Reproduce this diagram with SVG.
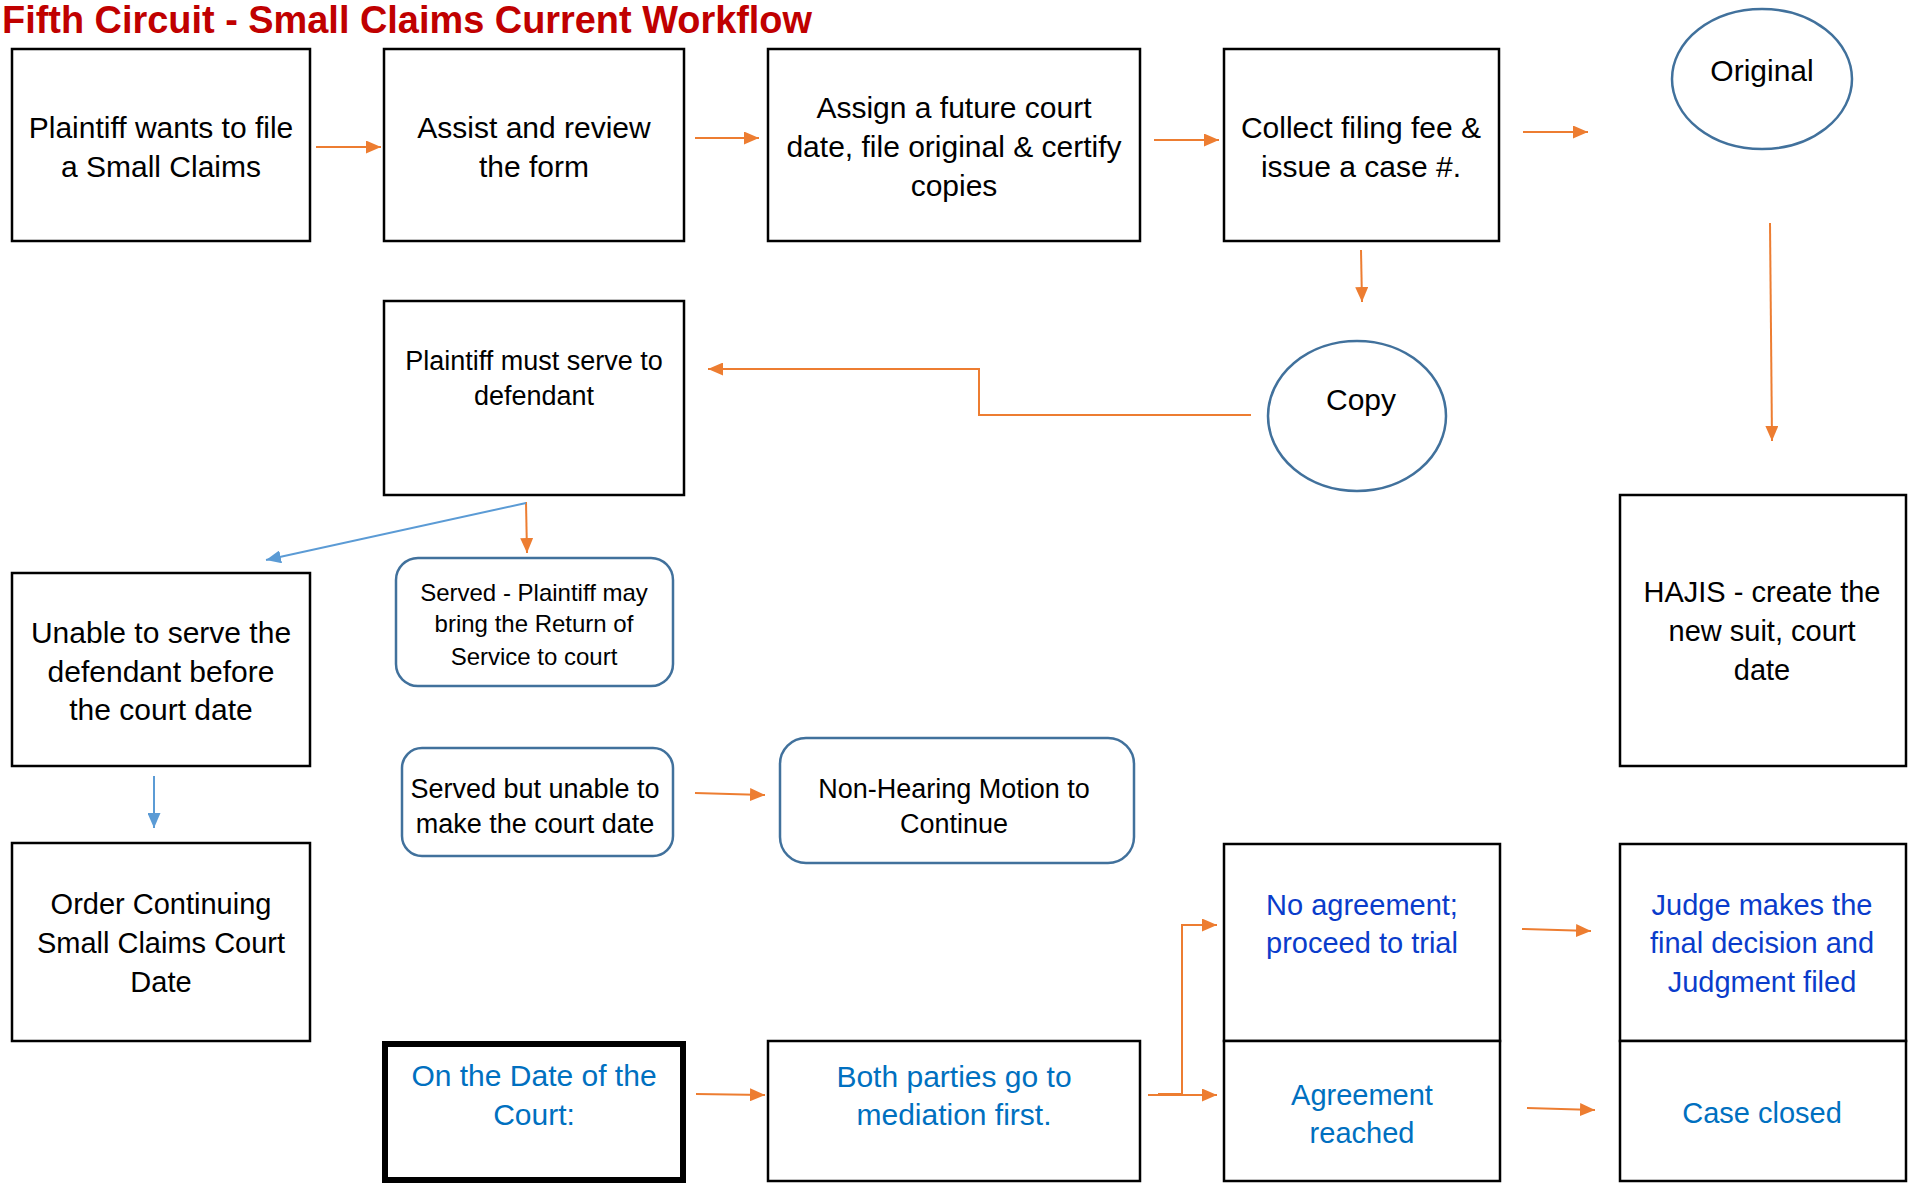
<svg xmlns="http://www.w3.org/2000/svg" width="1911" height="1183" viewBox="0 0 1911 1183">
<style>
  .box { fill: #FFFFFF; stroke: #000000; stroke-width: 2.5; }
  .thick { fill: #FFFFFF; stroke: #000000; stroke-width: 6; }
  .rbox { fill: #FFFFFF; stroke: #41719C; stroke-width: 2.5; }
  .ell { fill: #FFFFFF; stroke: #41719C; stroke-width: 2.5; }
  text { font-family: "Liberation Sans", Arial, sans-serif; text-anchor: middle; dominant-baseline: central; fill: #000000; }
  .t30 { font-size: 30px; }
  .t29 { font-size: 29px; }
  .t27 { font-size: 27px; }
  .t24 { font-size: 24px; }
  .blue { fill: #0070C0; }
  .dblue { fill: #0A3CCB; }
  .title { font-family: "Liberation Sans Narrow", "Liberation Sans", Arial, sans-serif; font-weight: bold; font-size: 39px; fill: #C00000; text-anchor: start; dominant-baseline: alphabetic; }
  .co { fill: none; stroke: #ED7D31; stroke-width: 2; }
  .cb { fill: none; stroke: #5B9BD5; stroke-width: 2; }
</style>
<defs>
  <marker id="ao" viewBox="0 0 15 13" refX="15" refY="6.5" markerWidth="15" markerHeight="13" markerUnits="userSpaceOnUse" orient="auto">
    <path d="M0,0 L15,6.5 L0,13 z" fill="#ED7D31"/>
  </marker>
  <marker id="ab" viewBox="0 0 15 13" refX="15" refY="6.5" markerWidth="15" markerHeight="13" markerUnits="userSpaceOnUse" orient="auto">
    <path d="M0,0 L15,6.5 L0,13 z" fill="#5B9BD5"/>
  </marker>
</defs>
<rect x="0" y="0" width="1911" height="1183" fill="#FFFFFF"/>
<text class="title" x="2" y="33" textLength="810" lengthAdjust="spacingAndGlyphs">Fifth Circuit - Small Claims Current Workflow</text>

<g id="connectors">
  <line class="co" x1="316" y1="147" x2="381" y2="147" marker-end="url(#ao)"/>
  <line class="co" x1="695" y1="138" x2="759" y2="138" marker-end="url(#ao)"/>
  <line class="co" x1="1154" y1="140" x2="1219" y2="140" marker-end="url(#ao)"/>
  <line class="co" x1="1523" y1="132" x2="1588" y2="132" marker-end="url(#ao)"/>
  <line class="co" x1="1361" y1="250" x2="1362" y2="302" marker-end="url(#ao)"/>
  <line class="co" x1="1770" y1="223" x2="1772" y2="441" marker-end="url(#ao)"/>
  <path class="co" d="M1251,415 H979 V369 H708" marker-end="url(#ao)"/>
  <line class="co" x1="526" y1="502" x2="527" y2="553" marker-end="url(#ao)"/>
  <line class="cb" x1="526" y1="503" x2="266" y2="560" marker-end="url(#ab)"/>
  <line class="cb" x1="154" y1="776" x2="154" y2="828" marker-end="url(#ab)"/>
  <line class="co" x1="695" y1="793" x2="765" y2="795" marker-end="url(#ao)"/>
  <line class="co" x1="696" y1="1094" x2="765" y2="1095" marker-end="url(#ao)"/>
  <path class="co" d="M1148,1095 H1217" marker-end="url(#ao)"/>
  <path class="co" d="M1158,1094 H1182 V925 H1217" marker-end="url(#ao)"/>
  <line class="co" x1="1522" y1="929" x2="1591" y2="931" marker-end="url(#ao)"/>
  <line class="co" x1="1527" y1="1108" x2="1595" y2="1110" marker-end="url(#ao)"/>
</g>

<g id="n1">
  <rect class="box" x="12" y="49" width="298" height="192"/>
  <text class="t30" x="161" y="127">Plaintiff wants to file</text>
  <text class="t30" x="161" y="166">a Small Claims</text>
</g>
<g id="n2">
  <rect class="box" x="384" y="49" width="300" height="192"/>
  <text class="t30" x="534" y="127">Assist and review</text>
  <text class="t30" x="534" y="166">the form</text>
</g>
<g id="n3">
  <rect class="box" x="768" y="49" width="372" height="192"/>
  <text class="t30" x="954" y="107">Assign a future court</text>
  <text class="t30" x="954" y="146">date, file original &amp; certify</text>
  <text class="t30" x="954" y="185">copies</text>
</g>
<g id="n4">
  <rect class="box" x="1224" y="49" width="275" height="192"/>
  <text class="t30" x="1361" y="127">Collect filing fee &amp;</text>
  <text class="t30" x="1361" y="166">issue a case #.</text>
</g>
<g id="n5">
  <ellipse class="ell" cx="1762" cy="79" rx="90" ry="70"/>
  <text class="t30" x="1762" y="70">Original</text>
</g>
<g id="n6">
  <ellipse class="ell" cx="1357" cy="416" rx="89" ry="75"/>
  <text class="t30" x="1361" y="399">Copy</text>
</g>
<g id="n7">
  <rect class="box" x="384" y="301" width="300" height="194"/>
  <text class="t27" x="534" y="361">Plaintiff must serve to</text>
  <text class="t27" x="534" y="396">defendant</text>
</g>
<g id="n8">
  <rect class="box" x="12" y="573" width="298" height="193"/>
  <text class="t30" x="161" y="632">Unable to serve the</text>
  <text class="t30" x="161" y="671">defendant before</text>
  <text class="t30" x="161" y="709">the court date</text>
</g>
<g id="n9">
  <rect class="rbox" x="396" y="558" width="277" height="128" rx="22" ry="22"/>
  <text class="t24" x="534" y="592">Served - Plaintiff may</text>
  <text class="t24" x="534" y="623">bring the Return of</text>
  <text class="t24" x="534" y="656">Service to court</text>
</g>
<g id="n10">
  <rect class="rbox" x="402" y="748" width="271" height="108" rx="20" ry="20"/>
  <text class="t27" x="535" y="789">Served but unable to</text>
  <text class="t27" x="535" y="824">make the court date</text>
</g>
<g id="n11">
  <rect class="rbox" x="780" y="738" width="354" height="125" rx="26" ry="26"/>
  <text class="t27" x="954" y="789">Non-Hearing Motion to</text>
  <text class="t27" x="954" y="824">Continue</text>
</g>
<g id="n12">
  <rect class="box" x="1620" y="495" width="286" height="271"/>
  <text class="t29" x="1762" y="592">HAJIS - create the</text>
  <text class="t29" x="1762" y="631">new suit, court</text>
  <text class="t29" x="1762" y="670">date</text>
</g>
<g id="n13">
  <rect class="box" x="12" y="843" width="298" height="198"/>
  <text class="t29" x="161" y="904">Order Continuing</text>
  <text class="t29" x="161" y="943">Small Claims Court</text>
  <text class="t29" x="161" y="982">Date</text>
</g>
<g id="n14">
  <rect class="thick" x="385" y="1044" width="298" height="136"/>
  <text class="t30 blue" x="534" y="1075">On the Date of the</text>
  <text class="t30 blue" x="534" y="1114">Court:</text>
</g>
<g id="n15">
  <rect class="box" x="768" y="1041" width="372" height="140"/>
  <text class="t30 blue" x="954" y="1076">Both parties go to</text>
  <text class="t30 blue" x="954" y="1114">mediation first.</text>
</g>
<g id="n16">
  <rect class="box" x="1224" y="844" width="276" height="197"/>
  <text class="t29 dblue" x="1362" y="905">No agreement;</text>
  <text class="t29 dblue" x="1362" y="943">proceed to trial</text>
</g>
<g id="n17">
  <rect class="box" x="1224" y="1041" width="276" height="140"/>
  <text class="t29 blue" x="1362" y="1095">Agreement</text>
  <text class="t29 blue" x="1362" y="1133">reached</text>
</g>
<g id="n18">
  <rect class="box" x="1620" y="844" width="286" height="197"/>
  <text class="t29 dblue" x="1762" y="905">Judge makes the</text>
  <text class="t29 dblue" x="1762" y="943">final decision and</text>
  <text class="t29 dblue" x="1762" y="982">Judgment filed</text>
</g>
<g id="n19">
  <rect class="box" x="1620" y="1041" width="286" height="140"/>
  <text class="t29 blue" x="1762" y="1113">Case closed</text>
</g>
</svg>
